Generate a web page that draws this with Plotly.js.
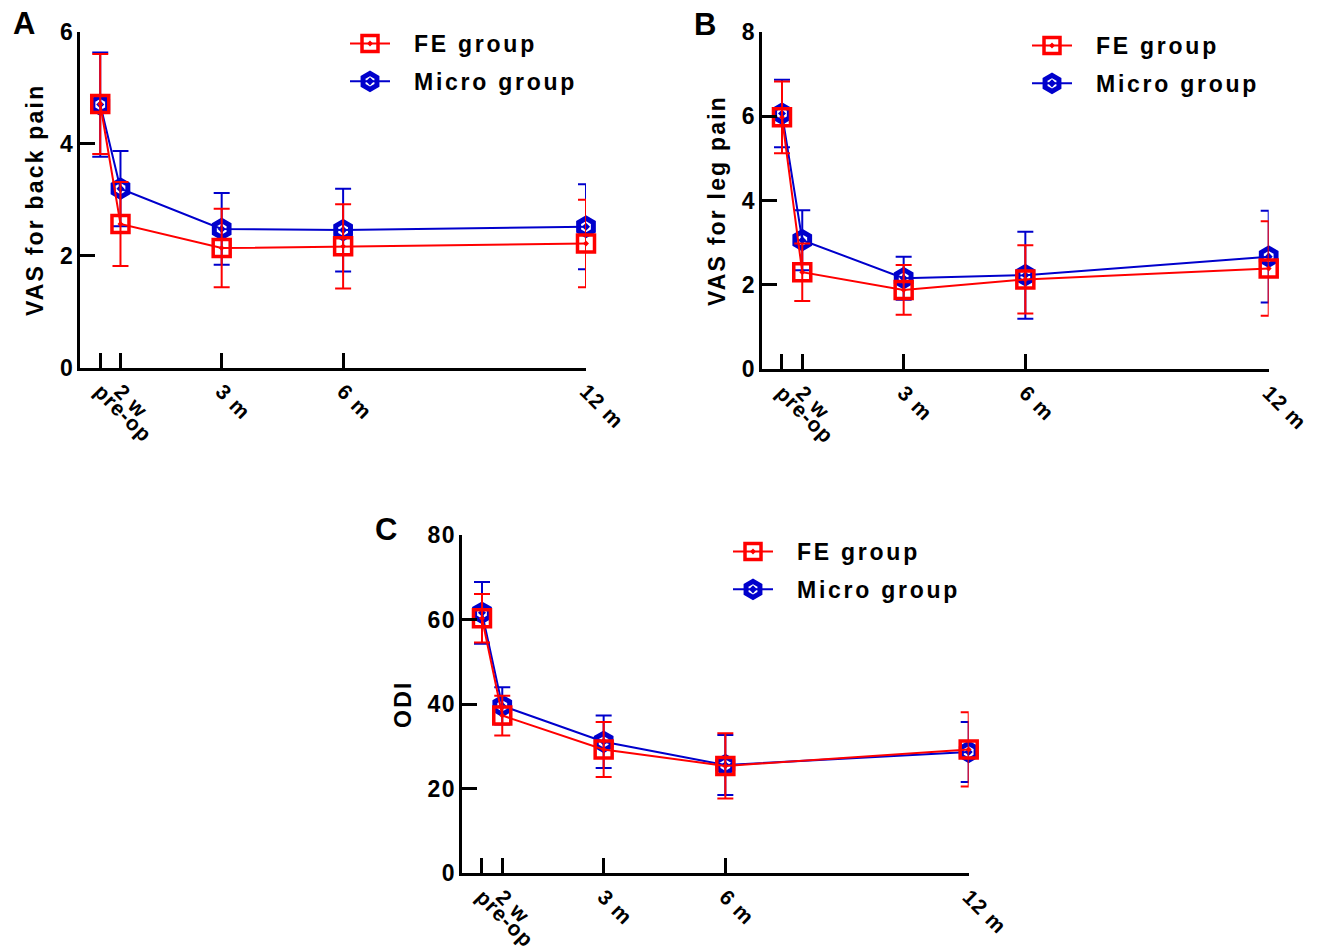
<!DOCTYPE html>
<html>
<head>
<meta charset="utf-8">
<script src="https://cdn.plot.ly/plotly-3.0.1.min.js"></script>
<style>
  html, body { margin: 0; padding: 0; background: #fff; }
  #chart { width: 1324px; height: 952px; }
  #chart text { letter-spacing: 1.5px; }
  #chart .xtick text, #chart .x2tick text, #chart .x3tick text { letter-spacing: 1px; }
  #chart .g-ytitle text, #chart .g-y2title text, #chart .g-y3title text { letter-spacing: 2.2px; }
  #chart .annotation-text { letter-spacing: 0px; }
</style>
</head>
<body>
<div id="chart"></div>
<script>
// Time points (months) and their labels
const timePoints = [0, 0.5, 3, 6, 12];
const tickLabels = ["pre-op", "2 w", "3 m", "6 m", "12 m"];
const seriesNames = ["FE group", "Micro group"];

// Panel A: VAS for back pain
const backFE = [4.71, 2.57, 2.14, 2.17, 2.22];
const backFEsd = [0.89, 0.75, 0.70, 0.75, 0.78];
const backMicro = [4.70, 3.20, 2.48, 2.46, 2.52];
const backMicroSd = [0.93, 0.67, 0.64, 0.74, 0.76];

// Panel B: VAS for leg pain
const legFE = [5.97, 2.30, 1.88, 2.13, 2.39];
const legFEsd = [0.85, 0.68, 0.59, 0.81, 1.12];
const legMicro = [6.06, 3.06, 2.16, 2.23, 2.67];
const legMicroSd = [0.80, 0.71, 0.51, 1.03, 1.09];

// Panel C: ODI
const odiFE = [60.3, 37.3, 29.3, 25.4, 29.3];
const odiFEsd = [5.75, 4.7, 6.5, 7.7, 8.8];
const odiMicro = [61.6, 39.6, 31.1, 25.6, 28.7];
const odiMicroSd = [7.3, 4.4, 6.2, 7.1, 7.1];

const RED = "#FF0000";
const BLUE = "#0000CC";
const FONT = "Liberation Sans, Arial, sans-serif";

function feTrace(y, sd, xa, ya, leg) {
  return {
    type: "scatter", mode: "lines+markers", name: seriesNames[0],
    x: timePoints, y: y, xaxis: xa, yaxis: ya, legend: leg,
    legendgroup: "fe" + leg, legendrank: 1, cliponaxis: false,
    line: { color: RED, width: 2 },
    marker: { symbol: "square-open-dot", size: 17, color: RED, line: { color: RED, width: 3.5 } },
    error_y: { type: "data", array: sd, visible: true, color: RED, thickness: 2, width: 8 }
  };
}
function microTrace(y, sd, xa, ya, leg) {
  return {
    type: "scatter", mode: "lines+markers", name: seriesNames[1],
    x: timePoints, y: y, xaxis: xa, yaxis: ya, legend: leg,
    legendgroup: "mi" + leg, legendrank: 2, cliponaxis: false,
    line: { color: BLUE, width: 2 },
    marker: { symbol: "hexagon-open-dot", size: 17, color: BLUE, line: { color: BLUE, width: 5 } },
    error_y: { type: "data", array: sd, visible: true, color: BLUE, thickness: 2, width: 8 }
  };
}

const data = [
  microTrace(backMicro, backMicroSd, "x", "y", "legend"),
  feTrace(backFE, backFEsd, "x", "y", "legend"),
  microTrace(legMicro, legMicroSd, "x2", "y2", "legend2"),
  feTrace(legFE, legFEsd, "x2", "y2", "legend2"),
  microTrace(odiMicro, odiMicroSd, "x3", "y3", "legend3"),
  feTrace(odiFE, odiFEsd, "x3", "y3", "legend3")
];

const W = 1324, H = 952;
function xAxis(x0, x1, anchor) {
  return {
    domain: [x0 / W, x1 / W], anchor: anchor, range: [-0.5, 12],
    tickmode: "array", tickvals: timePoints, ticktext: tickLabels,
    tickangle: 45, ticks: "inside", ticklen: 15, tickwidth: 3, tickcolor: "#000",
    showline: true, linewidth: 3, linecolor: "#000", showgrid: false, zeroline: false,
    tickfont: { family: FONT, size: 21, color: "#000", weight: "bold" }
  };
}
function yAxis(y0, y1, anchor, maxV, dt, title, standoff) {
  return {
    domain: [1 - y1 / H, 1 - y0 / H], anchor: anchor, range: [0, maxV], dtick: dt,
    ticks: "inside", ticklen: 15, tickwidth: 3, tickcolor: "#000",
    showline: true, linewidth: 3, linecolor: "#000", showgrid: false, zeroline: false,
    ticklabelstandoff: -2,
    tickfont: { family: FONT, size: 23, color: "#000", weight: "bold" },
    title: { text: title, standoff: standoff, font: { family: FONT, size: 23, color: "#000", weight: "bold" } }
  };
}
function legendAt(x, y) {
  return {
    x: x / W, y: 1 - y / H, xanchor: "left", yanchor: "top",
    bgcolor: "rgba(0,0,0,0)", borderwidth: 0, itemwidth: 40,
    traceorder: "grouped", tracegroupgap: 5,
    font: { family: FONT, size: 23, color: "#000", weight: "bold" }
  };
}

const layout = {
  width: W, height: H,
  margin: { l: 0, r: 0, t: 0, b: 0 },
  paper_bgcolor: "#fff", plot_bgcolor: "#fff",
  showlegend: true,
  xaxis: xAxis(80, 586, "y"),
  yaxis: yAxis(31.7, 368, "x", 6, 2, "VAS for back pain", 12),
  xaxis2: xAxis(761.7, 1268.7, "y2"),
  yaxis2: yAxis(31.7, 369.3, "x2", 8, 2, "VAS for leg pain", 12),
  xaxis3: xAxis(461.7, 968.7, "y3"),
  yaxis3: yAxis(535, 873.3, "x3", 80, 20, "ODI", 13),
  legend: legendAt(345, 22),
  legend2: legendAt(1027, 24),
  legend3: legendAt(728, 530),
  annotations: [
    { text: "A", x: 11 / W, y: 1 - 4 / H },
    { text: "B", x: 692 / W, y: 1 - 5 / H },
    { text: "C", x: 373 / W, y: 1 - 510 / H }
  ].map(a => Object.assign({
    xref: "paper", yref: "paper", xanchor: "left", yanchor: "top", showarrow: false,
    font: { family: FONT, size: 31, color: "#000", weight: "bold" }
  }, a))
};

Plotly.newPlot("chart", data, layout, { displayModeBar: false, staticPlot: true }).then(function (gd) {
  // Widen the gap between legend symbols and their labels, as in the original figure
  gd.querySelectorAll("text").forEach(function (t) {
    if (seriesNames.indexOf(t.textContent) >= 0) {
      t.style.letterSpacing = "2.75px";
      t.setAttribute("transform", "translate(19,0)");
      let p = t.parentNode;
      while (p && p !== gd) {
        if (p.getAttribute && p.getAttribute("clip-path")) p.removeAttribute("clip-path");
        p = p.parentNode;
      }
    }
  });
});
</script>
</body>
</html>
